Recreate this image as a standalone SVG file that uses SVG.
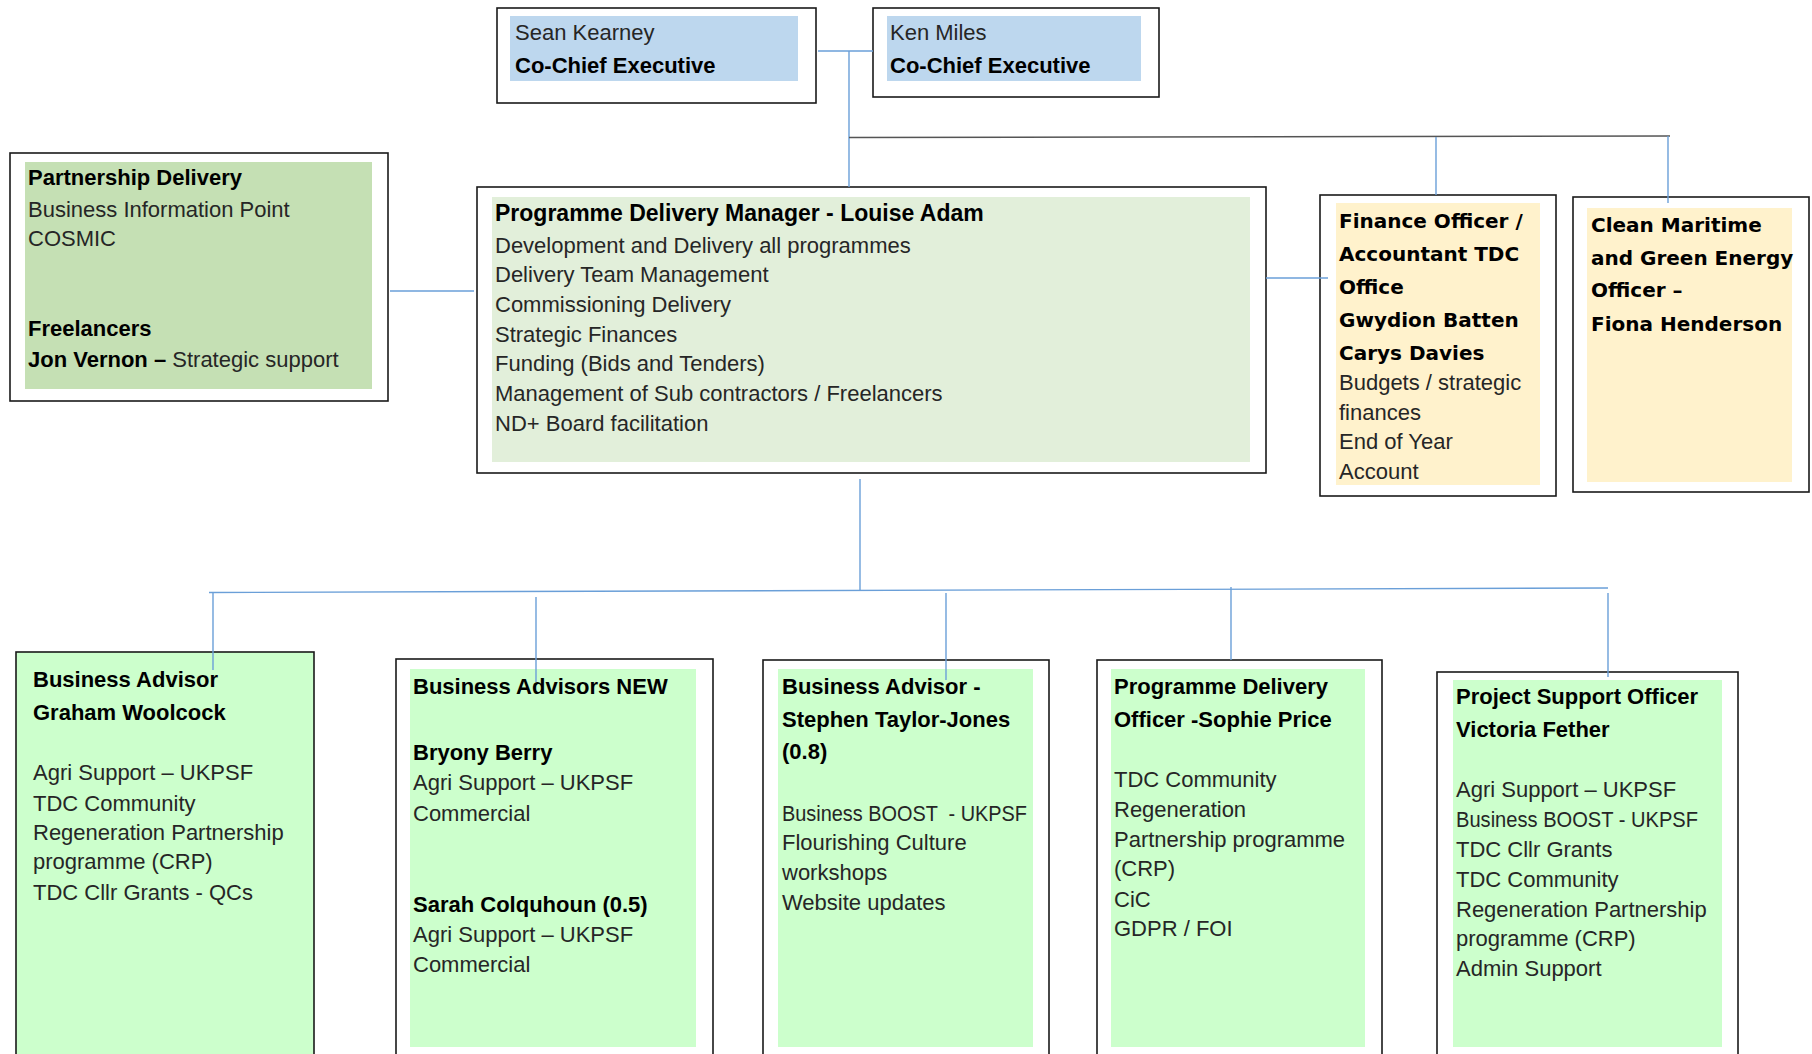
<svg xmlns="http://www.w3.org/2000/svg" width="1812" height="1054" viewBox="0 0 1812 1054">
<style>
.box{fill:#fff;stroke:#1a1a1a;stroke-width:1.6}
.blue{fill:#bdd7ee}
.pg{fill:#c5e0b4}
.lg{fill:#e2efda}
.yl{fill:#fff2cc}
.gr{fill:#ccffcc}
.grbox{fill:#ccffcc;stroke:#1a1a1a;stroke-width:1.6}
text{font-family:"Liberation Sans",Arial,sans-serif;font-size:22px;fill:#262626}
.b{font-weight:bold;fill:#000}
.v{font-family:"DejaVu Sans",Verdana,sans-serif;font-size:20px;font-weight:bold;fill:#000}
.conn line{stroke:#6a9fd8;stroke-width:1.4;fill:none}
.conn line.dk{stroke:#555;stroke-width:1.4}
</style>
<rect width="1812" height="1054" fill="#fff"/>

<g id="node-sean">
<rect class="box" x="497" y="8" width="319" height="95"/>
<rect class="blue" x="510" y="16" width="288" height="65"/>
<text x="515" y="40">Sean Kearney</text>
<text class="b" x="515" y="73">Co-Chief Executive</text>
</g>

<g id="node-ken">
<rect class="box" x="873" y="8" width="286" height="89"/>
<rect class="blue" x="887" y="16" width="254" height="65"/>
<text x="890" y="40">Ken Miles</text>
<text class="b" x="890" y="73">Co-Chief Executive</text>
</g>

<g id="node-partnership">
<rect class="box" x="10" y="153" width="378" height="248"/>
<rect class="pg" x="25" y="162" width="347" height="227"/>
<text class="b" x="28" y="185">Partnership Delivery</text>
<text x="28" y="217">Business Information Point</text>
<text x="28" y="246">COSMIC</text>
<text class="b" x="28" y="336">Freelancers</text>
<text x="28" y="367"><tspan class="b">Jon Vernon –</tspan> Strategic support</text>
</g>

<g id="node-programme">
<rect class="box" x="477" y="187" width="789" height="286"/>
<rect class="lg" x="492" y="197" width="758" height="265"/>
<text class="b" x="495" y="221" style="font-size:23px">Programme Delivery Manager - Louise Adam</text>
<text x="495" y="253">Development and Delivery all programmes</text>
<text x="495" y="282">Delivery Team Management</text>
<text x="495" y="312">Commissioning Delivery</text>
<text x="495" y="342">Strategic Finances</text>
<text x="495" y="371">Funding (Bids and Tenders)</text>
<text x="495" y="401">Management of Sub contractors / Freelancers</text>
<text x="495" y="431">ND+ Board facilitation</text>
</g>

<g id="node-finance">
<rect class="box" x="1320" y="195" width="236" height="301"/>
<rect class="yl" x="1336" y="203" width="204" height="282"/>
<text class="v" x="1339" y="228">Finance Officer /</text>
<text class="v" x="1339" y="261">Accountant TDC</text>
<text class="v" x="1339" y="294">Office</text>
<text class="v" x="1339" y="327">Gwydion Batten</text>
<text class="v" x="1339" y="360">Carys Davies</text>
<text x="1339" y="390">Budgets / strategic</text>
<text x="1339" y="420">finances</text>
<text x="1339" y="449">End of Year</text>
<text x="1339" y="479">Account</text>
</g>

<g id="node-clean">
<rect class="box" x="1573" y="197" width="236" height="295"/>
<rect class="yl" x="1587" y="208" width="205" height="274"/>
<text class="v" x="1591" y="232">Clean Maritime</text>
<text class="v" x="1591" y="265">and Green Energy</text>
<text class="v" x="1591" y="297">Officer –</text>
<text class="v" x="1591" y="331">Fiona Henderson</text>
</g>

<g id="node-graham">
<rect class="grbox" x="16" y="652" width="298" height="420"/>
<text class="b" x="33" y="687">Business Advisor</text>
<text class="b" x="33" y="720">Graham Woolcock</text>
<text x="33" y="780">Agri Support – UKPSF</text>
<text x="33" y="811">TDC Community</text>
<text x="33" y="840">Regeneration Partnership</text>
<text x="33" y="869">programme (CRP)</text>
<text x="33" y="900">TDC Cllr Grants - QCs</text>
</g>

<g id="node-new">
<rect class="box" x="396" y="659" width="317" height="420"/>
<rect class="gr" x="410" y="669" width="286" height="378"/>
<text class="b" x="413" y="694">Business Advisors NEW</text>
<text class="b" x="413" y="760">Bryony Berry</text>
<text x="413" y="790">Agri Support – UKPSF</text>
<text x="413" y="821">Commercial</text>
<text class="b" x="413" y="912">Sarah Colquhoun (0.5)</text>
<text x="413" y="942">Agri Support – UKPSF</text>
<text x="413" y="972">Commercial</text>
</g>

<g id="node-stephen">
<rect class="box" x="763" y="660" width="286" height="420"/>
<rect class="gr" x="778" y="669" width="255" height="378"/>
<text class="b" x="782" y="694">Business Advisor -</text>
<text class="b" x="782" y="727">Stephen Taylor-Jones</text>
<text class="b" x="782" y="759">(0.8)</text>
<text x="782" y="821" xml:space="preserve" textLength="245" lengthAdjust="spacingAndGlyphs">Business BOOST  - UKPSF</text>
<text x="782" y="850">Flourishing Culture</text>
<text x="782" y="880">workshops</text>
<text x="782" y="910">Website updates</text>
</g>

<g id="node-sophie">
<rect class="box" x="1097" y="660" width="285" height="420"/>
<rect class="gr" x="1111" y="669" width="254" height="378"/>
<text class="b" x="1114" y="694">Programme Delivery</text>
<text class="b" x="1114" y="727">Officer -Sophie Price</text>
<text x="1114" y="787">TDC Community</text>
<text x="1114" y="817">Regeneration</text>
<text x="1114" y="847">Partnership programme</text>
<text x="1114" y="876">(CRP)</text>
<text x="1114" y="907">CiC</text>
<text x="1114" y="936">GDPR / FOI</text>
</g>

<g id="node-victoria">
<rect class="box" x="1437" y="672" width="301" height="420"/>
<rect class="gr" x="1453" y="680" width="269" height="367"/>
<text class="b" x="1456" y="704">Project Support Officer</text>
<text class="b" x="1456" y="737">Victoria Fether</text>
<text x="1456" y="797">Agri Support – UKPSF</text>
<text x="1456" y="827" textLength="242" lengthAdjust="spacingAndGlyphs">Business BOOST - UKPSF</text>
<text x="1456" y="857">TDC Cllr Grants</text>
<text x="1456" y="887">TDC Community</text>
<text x="1456" y="917">Regeneration Partnership</text>
<text x="1456" y="946">programme (CRP)</text>
<text x="1456" y="976">Admin Support</text>
</g>

<g id="connectors" class="conn">
<line x1="818" y1="51" x2="873" y2="51"/>
<line x1="849" y1="51" x2="849" y2="187"/>
<line class="dk" x1="849" y1="137.5" x2="1670" y2="136"/>
<line x1="1436" y1="137" x2="1436" y2="195"/>
<line x1="1668" y1="136" x2="1668" y2="203"/>
<line x1="390" y1="291" x2="474" y2="291"/>
<line x1="1266" y1="278" x2="1328" y2="278"/>
<line x1="860" y1="479" x2="860" y2="591"/>
<line x1="209" y1="592.5" x2="1608" y2="588"/>
<line x1="213" y1="592" x2="213" y2="670"/>
<line x1="536" y1="597" x2="536" y2="682"/>
<line x1="946" y1="593" x2="946" y2="680"/>
<line x1="1231" y1="587" x2="1231" y2="660"/>
<line x1="1608" y1="593" x2="1608" y2="677"/>
</g>
</svg>
